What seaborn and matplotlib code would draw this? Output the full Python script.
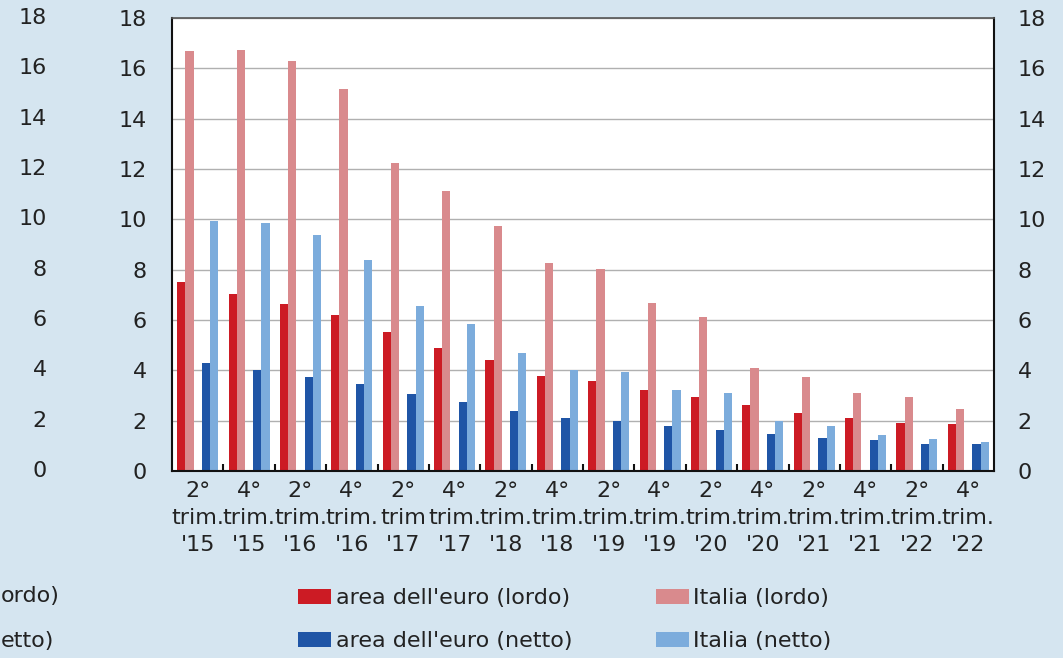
import numpy as np
import pandas as pd
import matplotlib
matplotlib.use("Agg")
import matplotlib.pyplot as plt
import matplotlib.transforms as mtransforms
from matplotlib.patches import Patch
from matplotlib.ticker import FixedLocator
import seaborn as sns

# --- data ---
periods = ["2°\ntrim.\n'15", "4°\ntrim.\n'15", "2°\ntrim.\n'16", "4°\ntrim.\n'16",
           "2°\ntrim\n'17", "4°\ntrim.\n'17", "2°\ntrim.\n'18", "4°\ntrim.\n'18",
           "2°\ntrim.\n'19", "4°\ntrim.\n'19", "2°\ntrim.\n'20", "4°\ntrim.\n'20",
           "2°\ntrim.\n'21", "4°\ntrim.\n'21", "2°\ntrim.\n'22", "4°\ntrim.\n'22"]
area_lordo = [7.5, 7.05, 6.63, 6.19, 5.52, 4.9, 4.4, 3.78, 3.56, 3.2, 2.93, 2.63, 2.3, 2.11, 1.92, 1.88]
italia_lordo = [16.68, 16.72, 16.31, 15.16, 12.22, 11.12, 9.73, 8.25, 8.02, 6.67, 6.1, 4.1, 3.74, 3.1, 2.96, 2.46]
area_netto = [4.28, 4.03, 3.75, 3.45, 3.07, 2.75, 2.37, 2.1, 1.97, 1.8, 1.64, 1.48, 1.31, 1.24, 1.08, 1.07]
italia_netto = [9.93, 9.84, 9.37, 8.39, 6.57, 5.85, 4.7, 4.02, 3.95, 3.2, 3.08, 1.98, 1.8, 1.44, 1.26, 1.17]

series_names = ["area dell'euro (lordo)", "Italia (lordo)", "area dell'euro (netto)", "Italia (netto)"]
colors = ["#cc1b24", "#d98a8d", "#1f55a6", "#7cacdc"]
yticks = [0, 2, 4, 6, 8, 10, 12, 14, 16, 18]

bg = "#d5e5f0"
txt = "#222222"
plt.rcParams.update({
    "font.family": ["DejaVu Sans"],
    "font.size": 16,
    "text.color": txt,
})

rows = []
for name, vals in zip(series_names, [area_lordo, italia_lordo, area_netto, italia_netto]):
    for p, v in zip(periods, vals):
        rows.append({"periodo": p, "serie": name, "valore": v})
# empty slot between the gross pair and the net pair
for p in periods:
    rows.append({"periodo": p, "serie": "_gap", "valore": 0.0})
df = pd.DataFrame(rows)

hue_order = [series_names[0], series_names[1], "_gap", series_names[2], series_names[3]]
palette = {series_names[0]: colors[0], series_names[1]: colors[1], "_gap": "white",
           series_names[2]: colors[2], series_names[3]: colors[3]}

fig = plt.figure(figsize=(10.63, 6.58), dpi=100, facecolor=bg)
ax = fig.add_axes([172 / 1063, 1 - 471 / 658, (994 - 172) / 1063, (471 - 18) / 658])
ax.set_facecolor("white")

sns.barplot(data=df, x="periodo", y="valore", hue="serie", hue_order=hue_order,
            order=periods, palette=palette, width=0.8, saturation=1, linewidth=0,
            legend=False, ax=ax)

ax.set_ylim(0, 18)
ax.set_xlim(-0.5, len(periods) - 0.5)
ax.set_xlabel("")
ax.set_ylabel("")
ax.set_axisbelow(True)
ax.yaxis.set_major_locator(FixedLocator(yticks))
ax.grid(axis="y", color="#b0b0b0", linewidth=1.0)
ax.grid(axis="x", visible=False)

ax.tick_params(axis="y", length=0, pad=18, labelsize=16, labelcolor=txt)
ax.tick_params(axis="x", which="major", length=0, pad=7, labelsize=16, labelcolor=txt)
ax.set_xticks(np.arange(len(periods)))
ax.set_xticklabels(periods, linespacing=1.45)
ax.xaxis.set_minor_locator(FixedLocator(np.arange(0.5, len(periods) - 1, 1.0)))
ax.tick_params(axis="x", which="minor", direction="in", length=5, width=1.5, color="#111111")

for side in ["left", "right", "bottom"]:
    ax.spines[side].set_color("#111111")
    ax.spines[side].set_linewidth(1.5)
ax.spines["top"].set_color("#555555")
ax.spines["top"].set_linewidth(1.2)

axr = ax.twinx()
axr.set_ylim(0, 18)
axr.yaxis.set_major_locator(FixedLocator(yticks))
axr.tick_params(axis="y", length=0, pad=17, labelsize=16, labelcolor=txt)
for s in axr.spines.values():
    s.set_visible(False)

# cut-off axis and legend of the neighbouring panel on the far left
trans = mtransforms.blended_transform_factory(fig.transFigure, ax.transData)
for t in yticks:
    fig.text(47 / 1063, t, str(t), transform=trans, ha="right", va="center",
             fontsize=16, color=txt)
fig.text(1 / 1063, 1 - 596 / 658, "ordo)", ha="left", va="center", fontsize=16, color=txt)
fig.text(1 / 1063, 1 - 641 / 658, "etto)", ha="left", va="center", fontsize=16, color=txt)

handles = [Patch(facecolor=colors[0]), Patch(facecolor=colors[2]),
           Patch(facecolor=colors[1]), Patch(facecolor=colors[3])]
labels = [series_names[0], series_names[2], series_names[1], series_names[3]]
fig.legend(handles, labels, ncol=2, loc="upper left",
           bbox_to_anchor=(298 / 1063, 1 - 588 / 658), frameon=False,
           handlelength=1.5, handleheight=0.65, handletextpad=0.2,
           columnspacing=3.75, labelspacing=1.05, borderpad=0, borderaxespad=0,
           fontsize=16)

fig.savefig("out.png", dpi=100, facecolor=bg)
